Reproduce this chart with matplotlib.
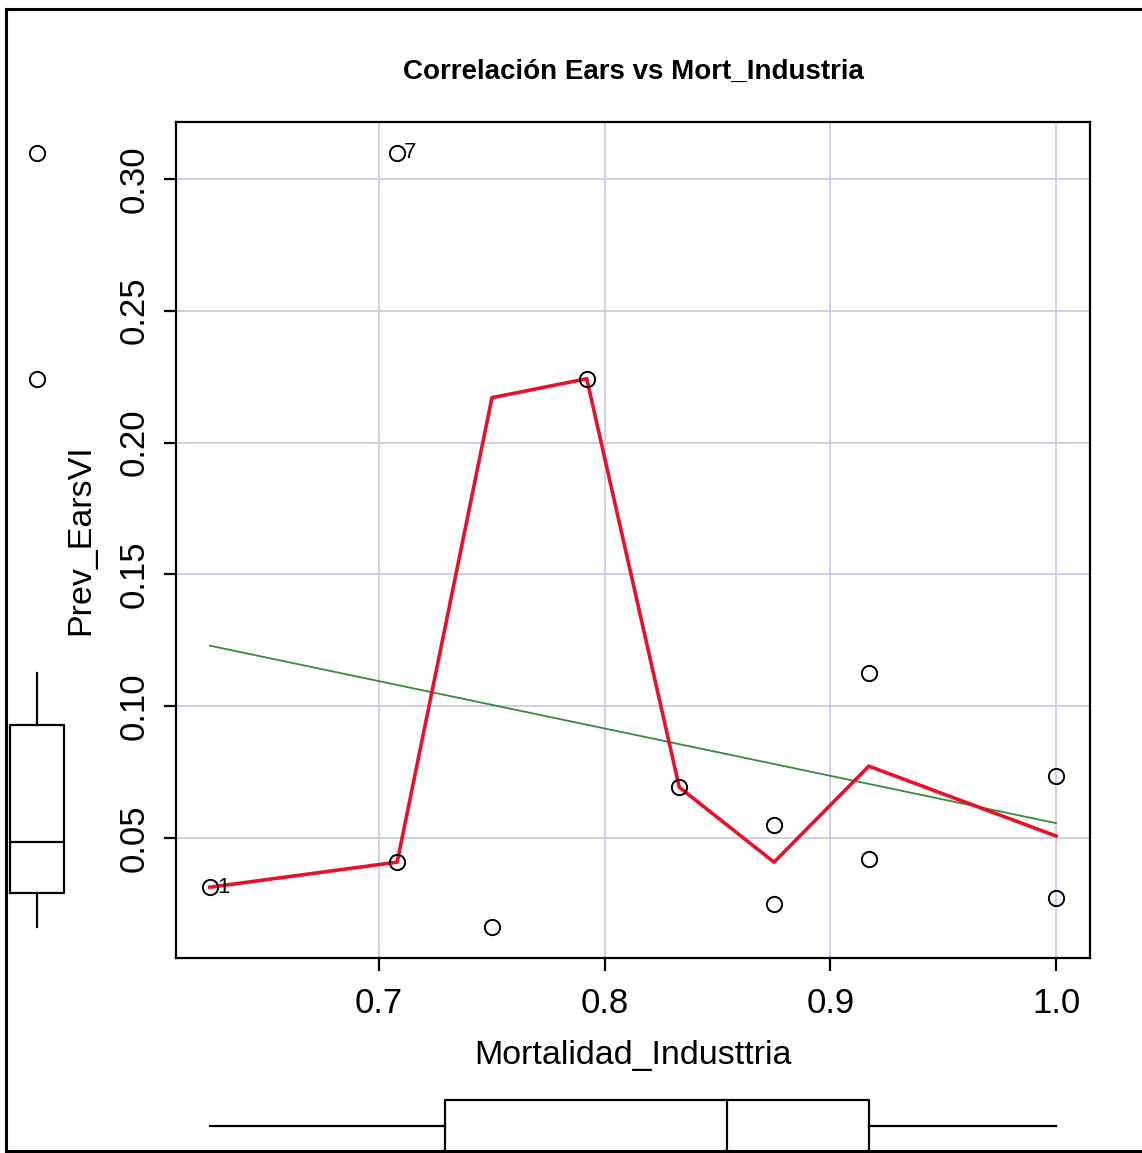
import numpy as np
import matplotlib
matplotlib.use("Agg")
import matplotlib.pyplot as plt
from matplotlib.lines import Line2D

plt.rcParams['font.family'] = ['Liberation Sans', 'DejaVu Sans']

# Observations
mort_industria = [0.625, 0.708, 0.708, 0.750, 0.792, 0.833, 0.875, 0.875, 0.917, 0.917, 1.000, 1.000]
prev_ears = [0.0314, 0.3098, 0.0409, 0.0163, 0.2242, 0.0693, 0.0549, 0.0250, 0.1125, 0.0420, 0.0735, 0.0273]
point_ids = ["1", "7", "", "", "", "", "", "", "", "", "", ""]

# Nonparametric smoother evaluated at the distinct x values
smooth_x = [0.625, 0.708, 0.750, 0.792, 0.833, 0.875, 0.917, 1.000]
smooth_y = [0.0314, 0.0409, 0.2170, 0.2242, 0.0693, 0.0409, 0.0773, 0.0508]

x_ticks = [0.7, 0.8, 0.9, 1.0]
x_tick_labels = ["0.7", "0.8", "0.9", "1.0"]
y_ticks = [0.05, 0.10, 0.15, 0.20, 0.25, 0.30]
y_tick_labels = ["0.05", "0.10", "0.15", "0.20", "0.25", "0.30"]

title = "Correlación Ears vs Mort_Industria"
x_label = "Mortalidad_Industtria"
y_label = "Prev_EarsVI"

x = np.array(mort_industria)
y = np.array(prev_ears)

W, H = 1142, 1153
fig = plt.figure(figsize=(W / 100, H / 100), dpi=100)


def frac_box(left, top, right, bottom):
    return [left / W, 1 - bottom / H, (right - left) / W, (bottom - top) / H]


def tukey_stats(v):
    v = np.sort(np.asarray(v))
    n = len(v)
    med = np.median(v)
    half = (n + 1) // 2
    lo = np.median(v[:half])
    hi = np.median(v[n - half:])
    iqr = hi - lo
    inside = v[(v >= lo - 1.5 * iqr) & (v <= hi + 1.5 * iqr)]
    fliers = v[(v < lo - 1.5 * iqr) | (v > hi + 1.5 * iqr)]
    return dict(med=med, q1=lo, q3=hi, whislo=inside.min(), whishi=inside.max(), fliers=fliers)


xr = x.max() - x.min()
yr = y.max() - y.min()
xlim = (x.min() - 0.04 * xr, x.max() + 0.04 * xr)
ylim = (y.min() - 0.04 * yr, y.max() + 0.04 * yr)

ax = fig.add_axes(frac_box(176, 122, 1090, 958))
ax.set_xlim(*xlim)
ax.set_ylim(*ylim)

grid_col = "#cacae8"
for xt in x_ticks:
    ax.axvline(xt, color=grid_col, lw=1.3, zorder=0)
for yt in y_ticks:
    ax.axhline(yt, color=grid_col, lw=1.3, zorder=0)

# Least-squares line
slope, intercept = np.polyfit(x, y, 1)
xx = np.array([x.min(), x.max()])
ax.plot(xx, intercept + slope * xx, color="#3a8a3a", lw=1.3, zorder=2)

# Smoother
ax.plot(smooth_x, smooth_y, color="#e8102a", lw=2.6, zorder=3)

ax.plot(x, y, linestyle="none", marker="o", markersize=11, markerfacecolor="none",
        markeredgecolor="black", markeredgewidth=1.4, zorder=4)
for xi, yi, lab in zip(x, y, point_ids):
    if lab:
        ax.annotate(lab, (xi, yi), xytext=(5, 0), textcoords="offset points",
                    ha="left", va="center", fontsize=16, zorder=5)

ax.set_xticks(x_ticks)
ax.set_xticklabels(x_tick_labels, fontsize=25)
ax.set_yticks(y_ticks)
ax.set_yticklabels(y_tick_labels, fontsize=25, rotation=90, va="center")
ax.tick_params(axis="both", direction="out", length=9, width=1.6, colors="black")
ax.tick_params(axis="x", pad=12)
ax.tick_params(axis="y", pad=9)
for s in ax.spines.values():
    s.set_linewidth(1.6)

ax.set_title(title, fontsize=20, fontweight="bold", pad=31)
ax.set_xlabel(x_label, fontsize=24.5, labelpad=14)
ax.set_ylabel(y_label, fontsize=24.5, labelpad=16)

# Marginal boxplot of y (left)
axl = fig.add_axes(frac_box(0, 122, 74, 958))
axl.set_ylim(*ylim)
axl.set_xlim(0, 74)
sy = tukey_stats(y)
axl.bxp([sy], positions=[37], widths=54, vert=True, showcaps=False,
        boxprops=dict(color="black", lw=1.6), whiskerprops=dict(color="black", lw=1.6, ls="-"),
        medianprops=dict(color="black", lw=1.6),
        flierprops=dict(marker="o", markersize=11, markerfacecolor="none",
                        markeredgecolor="black", markeredgewidth=1.4))
axl.axis("off")

# Marginal boxplot of x (bottom)
axb = fig.add_axes(frac_box(176, 1090, 1090, 1153))
axb.set_xlim(*xlim)
axb.set_ylim(0, 63)
sx = tukey_stats(x)
axb.bxp([sx], positions=[27], widths=52, vert=False, showcaps=False,
        boxprops=dict(color="black", lw=1.6), whiskerprops=dict(color="black", lw=1.6, ls="-"),
        medianprops=dict(color="black", lw=1.6),
        flierprops=dict(marker="o", markersize=11, markerfacecolor="none"))
axb.axis("off")

# Outer frame
for (x0, y0, x1, y1) in [(6, 9, W, 9), (6, 9, 6, 1151), (6, 1151, W, 1151)]:
    fig.add_artist(Line2D([x0 / W, x1 / W], [1 - y0 / H, 1 - y1 / H], color="black", lw=2.2))

fig.savefig("out.png", dpi=100)
